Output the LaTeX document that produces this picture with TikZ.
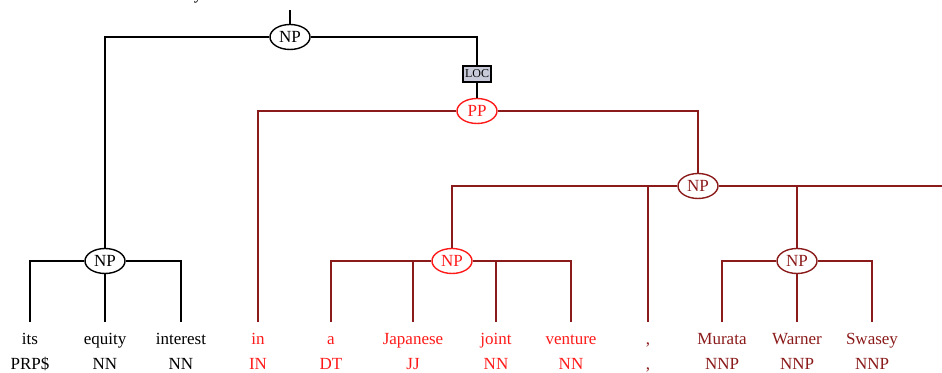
\documentclass[tikz,border=0pt]{standalone}
\usepackage{fontspec}
\setmainfont{Liberation Serif}
\usepackage{xcolor}
\usetikzlibrary{shapes.geometric}
\definecolor{TRed}{HTML}{FF1A1A}
\definecolor{TDark}{HTML}{8B1A1A}
\definecolor{TLoc}{HTML}{C9CAD9}

\begin{document}
\begin{tikzpicture}[
  x=0.5pt,y=-0.5pt,
  every node/.style={font=\fontsize{8.5}{10}\selectfont},
  cat/.style={ellipse,draw,line width=0.7pt,minimum width=20pt,
    minimum height=12.5pt,inner sep=0pt},
  fn/.style={draw,fill=TLoc,line width=0.7pt,minimum width=14pt,
    minimum height=8pt,inner sep=0pt,font=\fontsize{6}{7}\selectfont},
  word/.style={anchor=base,text height=6.5pt,inner xsep=0pt,inner ysep=5pt},
  tag/.style={anchor=base,inner sep=0pt},
  e/.style={line width=0.7pt}
]
  \useasboundingbox (0,0) rectangle (942,373);
  \node[anchor=base,inner sep=0pt] (cut) at (198,0) {y};

  \node[cat] (np0) at (290,37) {NP};
  \node[cat] (np1) at (105,261) {NP};
  \node[fn] (loc) at (477,74) {LOC};
  \node[cat,draw=TRed,text=TRed] (pp) at (477,111) {PP};
  \node[cat,draw=TDark,text=TDark] (np2) at (698,186) {NP};
  \node[cat,draw=TRed,text=TRed] (np3) at (452,261) {NP};
  \node[cat,draw=TDark,text=TDark] (np4) at (797,261) {NP};
  \coordinate (up) at (290,10);
  \coordinate (rest) at (950,186);

  \foreach \n/\x/\w/\t/\c in {its/30/its/PRP\$/black,equity/105/equity/NN/black,
    interest/181/interest/NN/black,in/258/in/IN/TRed,a/331/a/DT/TRed,
    japanese/413/Japanese/JJ/TRed,joint/496/joint/NN/TRed,venture/571/venture/NN/TRed,
    comma/648/{,}/{,}/TDark,murata/722/Murata/NNP/TDark,warner/797/Warner/NNP/TDark,
    swasey/872/Swasey/NNP/TDark}
  {
    \node[word,text=\c] (\n) at (\x,345) {\w};
    \node[tag,text=\c] (\n-t) at (\x,370) {\t};
  }

  \draw[e] (np0) -- (up);
  \draw[e] (np0) -| (np1);
  \draw[e] (np0) -| (loc);
  \draw[e] (loc) -- (pp);
  \foreach \c in {its,interest}
    {\draw[e] (np1) -| (\c);}
  \draw[e] (np1) -- (equity);
  \draw[e,TDark] (pp) -| (in);
  \draw[e,TDark] (pp) -| (np2);
  \foreach \c in {np3,comma,np4}
    {\draw[e,TDark] (np2) -| (\c);}
  \draw[e,TDark] (np2) -- (rest);
  \foreach \c in {a,japanese,joint,venture}
    {\draw[e,TDark] (np3) -| (\c);}
  \foreach \c in {murata,swasey}
    {\draw[e,TDark] (np4) -| (\c);}
  \draw[e,TDark] (np4) -- (warner);
\end{tikzpicture}
\end{document}
